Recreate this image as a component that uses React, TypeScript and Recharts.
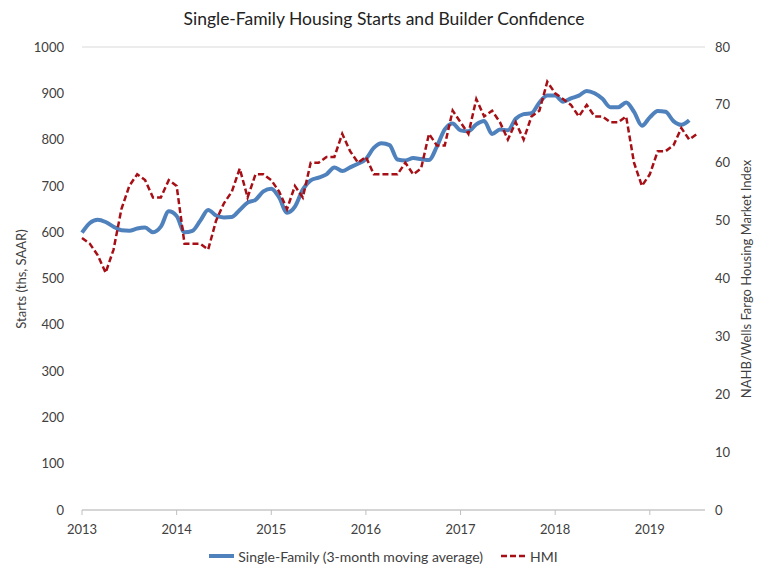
import React from "react"
import { Line, LineChart, XAxis, YAxis, CartesianGrid, Legend } from "recharts"

// Monthly, Jan 2013 onward
const yearLabels = ["2013", "2014", "2015", "2016", "2017", "2018", "2019"]
const yearTicks = [0, 12, 24, 36, 48, 60, 72]
const startsTicks = [0, 100, 200, 300, 400, 500, 600, 700, 800, 900, 1000]
const hmiTicks = [0, 10, 20, 30, 40, 50, 60, 70, 80]

// single-family starts, 3-month moving average (ths, SAAR), Jan 2013 - Jun 2019
const startsValues = [
  599, 620, 627, 622, 612, 604, 603, 608, 610, 600, 612, 645,
  635, 600, 603, 625, 648, 636, 632, 633, 648, 664, 670, 688,
  694, 675, 642, 655, 692, 712, 718, 725, 740, 732, 740, 748,
  758, 782, 792, 788, 757, 755, 760, 758, 756, 785, 822, 835,
  820, 818, 833, 840, 812, 822, 820, 845, 855, 857, 880, 895,
  895, 882, 889, 895, 905, 900, 888, 870, 870, 880, 860, 830,
  848, 862, 860, 840, 832, 842,
]

// NAHB/Wells Fargo HMI, Jan 2013 - Jul 2019
const hmiValues = [
  47, 46, 44, 41, 45, 52, 56, 58, 57, 54, 54, 57,
  56, 46, 46, 46, 45, 50, 53, 55, 59, 54, 58, 58,
  57, 55, 52, 56, 54, 60, 60, 61, 61, 65, 62, 60,
  61, 58, 58, 58, 58, 60, 58, 59, 65, 63, 63, 69,
  67, 65, 71, 68, 69, 67, 64, 67, 64, 68, 69, 74,
  72, 71, 70, 68, 70, 68, 68, 67, 67, 68, 60, 56,
  58, 62, 62, 63, 66, 64, 65,
]

const rows = hmiValues.map((h, i) => ({
  m: i,
  starts: i < startsValues.length ? startsValues[i] : null,
  hmi: h,
}))

const FONT = "Lato, 'Open Sans', sans-serif"
const BLUE = "#4f81bd"
const RED = "#a50f15"
const TEXT = "#404040"

function LegendBox() {
  return (
    <div style={{ height: 20, display: "flex", justifyContent: "center", alignItems: "center", fontFamily: FONT, fontSize: 14, color: TEXT }}>
      <svg width={25} height={8} style={{ marginRight: 4 }}>
        <line x1={0} y1={4} x2={25} y2={4} stroke={BLUE} strokeWidth={4} />
      </svg>
      <span style={{ marginRight: 18 }}>Single-Family (3-month moving average)</span>
      <svg width={25} height={8} style={{ marginRight: 4 }}>
        <line x1={0} y1={4} x2={25} y2={4} stroke={RED} strokeWidth={2.5} strokeDasharray="6 3" />
      </svg>
      <span>HMI</span>
    </div>
  )
}

export default function App() {
  const tick = { fill: TEXT, fontSize: 13, fontFamily: FONT }
  return (
    <div style={{ position: "absolute", left: 0, top: 0, width: 768, height: 576, background: "#fff" }}>
      <div style={{ position: "absolute", top: 8, width: 768, textAlign: "center", fontFamily: FONT, fontSize: 17.5, color: "#222" }}>
        Single-Family Housing Starts and Builder Confidence
      </div>
      <LineChart width={768} height={576} data={rows} margin={{ top: 47, right: 23, left: 22, bottom: 10 }}>
        <CartesianGrid vertical={false} stroke="#d9d9d9" />
        <XAxis
          dataKey="m"
          type="number"
          domain={[0, 79]}
          ticks={yearTicks}
          tickFormatter={(v) => yearLabels[v / 12]}
          height={36}
          stroke="#bfbfbf"
          tickSize={5}
          tickMargin={10}
          tick={tick}
        />
        <YAxis
          yAxisId="left"
          domain={[0, 1000]}
          ticks={startsTicks}
          width={60}
          axisLine={false}
          tickLine={false}
          tickMargin={12}
          tick={tick}
          label={{
            content: () => (
              <text x={23} y={279} transform="rotate(-90 23 279)" textAnchor="middle" dominantBaseline="middle" fill={TEXT} fontSize={13} fontFamily={FONT}>
                Starts (ths, SAAR)
              </text>
            ),
          }}
        />
        <YAxis
          yAxisId="right"
          orientation="right"
          domain={[0, 80]}
          ticks={hmiTicks}
          width={40}
          axisLine={false}
          tickLine={false}
          tickMargin={4}
          tick={tick}
          label={{
            content: () => (
              <text x={748} y={279} transform="rotate(-90 748 279)" textAnchor="middle" dominantBaseline="middle" fill={TEXT} fontSize={13} fontFamily={FONT}>
                NAHB/Wells Fargo Housing Market Index
              </text>
            ),
          }}
        />
        <Legend verticalAlign="bottom" content={() => <LegendBox />} />
        <Line
          yAxisId="left"
          type="monotone"
          dataKey="starts"
          stroke={BLUE}
          strokeWidth={4}
          dot={false}
          isAnimationActive={false}
        />
        <Line
          yAxisId="right"
          type="linear"
          dataKey="hmi"
          stroke={RED}
          strokeWidth={2.5}
          strokeDasharray="6 3"
          dot={false}
          isAnimationActive={false}
        />
      </LineChart>
    </div>
  )
}
